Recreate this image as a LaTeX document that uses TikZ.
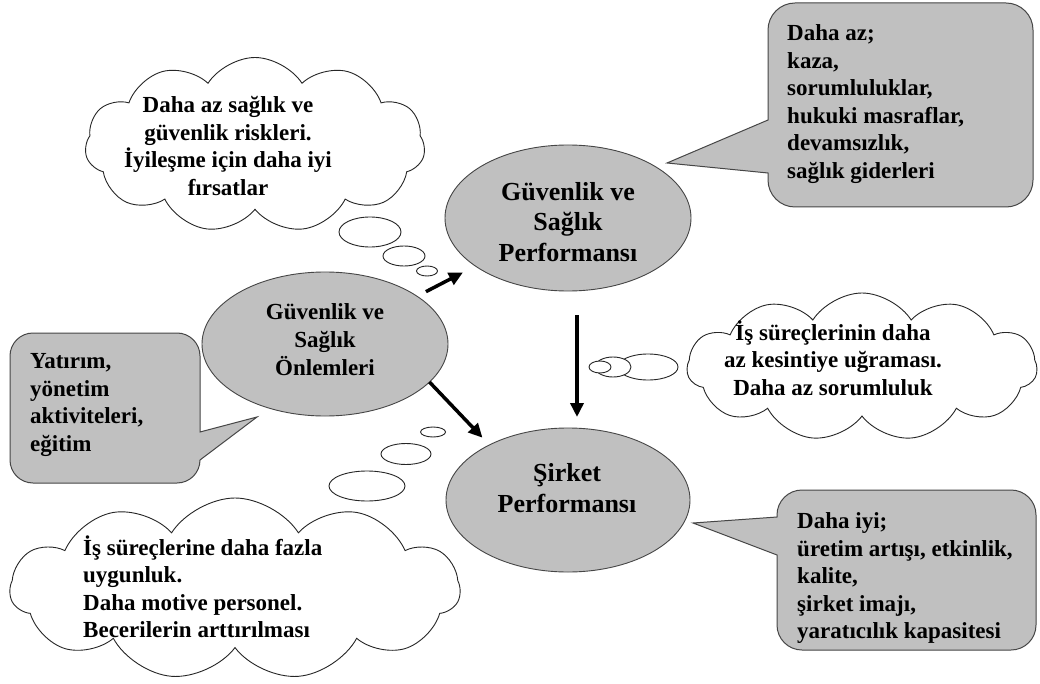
\documentclass[tikz,border=0pt]{standalone}
\usepackage{fontspec}
\setmainfont{Liberation Serif}
\usetikzlibrary{shapes.geometric,shapes.symbols,arrows.meta}
\definecolor{boxgray}{RGB}{192,192,192}
\definecolor{edge}{RGB}{70,70,70}
\tikzset{
  oval/.style={ellipse, draw=edge, line width=0.9pt, fill=boxgray, inner sep=0pt, outer sep=0pt},
  bub/.style={ellipse, draw=black!85, line width=0.9pt, fill=white, inner sep=0pt, outer sep=0pt},
  cloudbox/.style={cloud, cloud puffs=11, cloud puff arc=115, cloud ignores aspect, draw=black!85, line width=0.9pt, fill=white, inner sep=0pt, outer sep=0pt},
  callout/.style={draw=edge, line width=1pt, fill=boxgray},
  txt/.style={font=\fontsize{23}{27.5}\selectfont\bfseries, inner sep=0pt},
  midtxt/.style={font=\fontsize{23}{28}\selectfont\bfseries, inner sep=0pt, align=center},
  bigtxt/.style={font=\fontsize{26}{30.5}\selectfont\bfseries, inner sep=0pt, align=center},
  arr/.style={line width=3.5pt, -{Triangle[length=14pt,width=13pt]}}
}
\begin{document}
\begin{tikzpicture}[x=1pt,y=-1pt]
\useasboundingbox (0,0) rectangle (1040,684);
\fill[white] (0,0) rectangle (1040,684);

% clouds
\node[cloudbox, minimum width=340pt, minimum height=175pt] (cl1) at (255,145) {};
\node[txt, align=center] (cl1t) at (228,146) {Daha az sağlık ve\\güvenlik riskleri.\\İyileşme için daha iyi\\fırsatlar};
\node[bub, minimum width=62pt, minimum height=30pt] (b11) at (370,232) {};
\node[bub, minimum width=42pt, minimum height=20pt] (b12) at (404,256) {};
\node[bub, minimum width=21pt, minimum height=10pt] (b13) at (427,271) {};

\node[cloudbox, minimum width=350pt, minimum height=148pt] (cl2) at (862,367) {};
\node[txt, align=center] (cl2t) at (833,358) {İş süreçlerinin daha\\az kesintiye uğraması.\\Daha az sorumluluk};
\node[bub, minimum width=60pt, minimum height=26pt] (b21) at (648,367) {};
\node[bub, minimum width=36pt, minimum height=20pt] (b22) at (613,367) {};
\node[bub, minimum width=22pt, minimum height=12pt] (b23) at (600,367) {};

\node[cloudbox, minimum width=450pt, minimum height=182pt] (cl3) at (235,589) {};
\node[bub, minimum width=76pt, minimum height=30pt] (b31) at (367,486) {};
\node[bub, minimum width=50pt, minimum height=21pt] (b32) at (406,454) {};
\node[bub, minimum width=25pt, minimum height=10pt] (b33) at (433,432) {};
\node[txt, align=left, anchor=west] (cl3t) at (83,587) {İş süreçlerine daha fazla\\uygunluk.\\Daha motive personel.\\Becerilerin arttırılması};

% callouts
\draw[callout] (768,120) [rounded corners=27pt] -- (768,3) -- (1033,3) -- (1033,207) -- (768,207) [sharp corners] -- (768,173) -- (667,163) -- cycle;
\node[txt, align=left, anchor=west] (c1) at (787,104) {Daha az;\\kaza,\\sorumluluklar,\\hukuki masraflar,\\devamsızlık,\\sağlık giderleri};

\draw[callout] (200,432) [rounded corners=23pt] -- (200,333) -- (10,333) -- (10,483) -- (200,483) [sharp corners] -- (200,460) -- (257,417) -- cycle;
\node[txt, align=left, anchor=west] (c2) at (30,405) {Yatırım,\\yönetim\\aktiviteleri,\\eğitim};

\draw[callout] (777,517) [rounded corners=25pt] -- (777,490) -- (1036,490) -- (1036,650) -- (777,650) [sharp corners] -- (777,555) -- (693,523) -- cycle;
\node[txt, align=left, anchor=west] (c3) at (797,578) {Daha iyi;\\üretim artışı, etkinlik,\\kalite,\\şirket imajı,\\yaratıcılık kapasitesi};

% central ellipses
\node[oval, minimum width=246pt, minimum height=144pt] (e1) at (325,344) {};
\node[midtxt] (e1t) at (325,340) {Güvenlik ve\\Sağlık\\Önlemleri};
\node[oval, minimum width=246pt, minimum height=146pt] (e2) at (568,218) {};
\node[bigtxt] (e2t) at (568,222) {Güvenlik ve\\Sağlık\\Performansı};
\node[oval, minimum width=244pt, minimum height=144pt] (e3) at (568,500) {};
\node[bigtxt] (e3t) at (567,488) {Şirket\\Performansı};

% arrows
\draw[arr, shorten <=10pt, shorten >=14pt] (e1) -- (e2);
\draw[arr, shorten >=10pt] (e1.-20) -- (e3.145);
\draw[arr, shorten <=24pt, shorten >=11pt] ([xshift=9pt]e2.south) -- ([xshift=9pt]e3.north);
\end{tikzpicture}
\end{document}
